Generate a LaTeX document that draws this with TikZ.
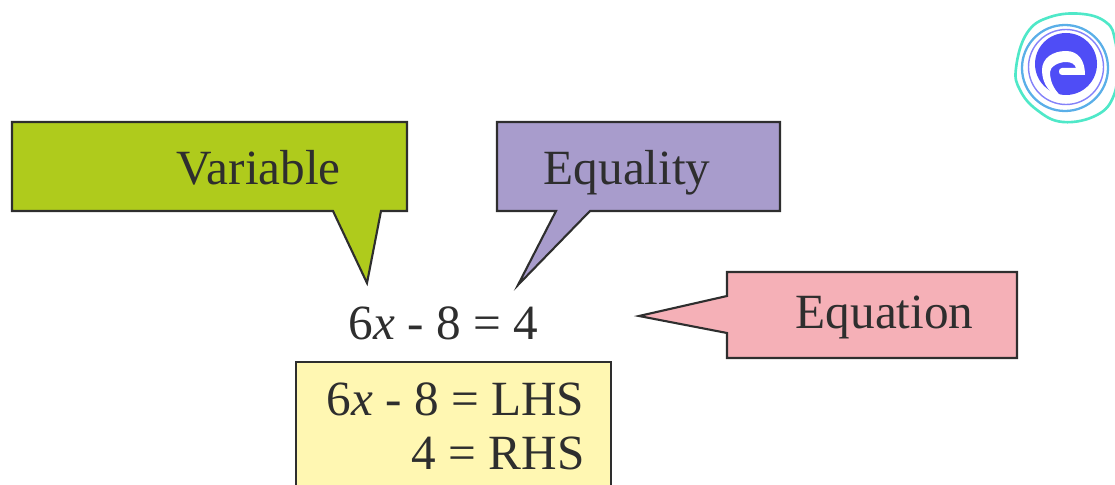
\documentclass[tikz,border=0pt]{standalone}
\usepackage{fontspec}
\setmainfont{Liberation Serif}
\definecolor{inkgrey}{HTML}{2E2E2E}
\definecolor{vargreen}{HTML}{AFCB1C}
\definecolor{eqpurple}{HTML}{A89CCC}
\definecolor{eqpink}{HTML}{F5B0B7}
\definecolor{sideyellow}{HTML}{FFF7B2}
\definecolor{logoblue}{HTML}{4F4DF6}
\definecolor{logoring}{HTML}{5AAFE8}
\definecolor{logoteal}{HTML}{4FE8C8}
\tikzset{
    bubble/.style={draw=inkgrey, line width=0.6pt, line join=miter},
    label/.style={anchor=base west, inner sep=0pt, text=inkgrey, font=\fontsize{14}{17}\selectfont},
}
\begin{document}
\begin{tikzpicture}[x=0.01cm, y=-0.01cm]
        \useasboundingbox (0,0) rectangle (1115,485);
        \clip (0,0) rectangle (1115,485);
        %callouts
        \draw[bubble, fill=vargreen] (12,122) -- (407,122) -- (407,211) -- (381,211) -- (367,283) -- (333,211) -- (12,211) -- cycle;
        \draw[bubble, fill=eqpurple] (497,122) -- (780,122) -- (780,211) -- (590,211) -- (518,285) -- (556,211) -- (497,211) -- cycle;
        \draw[bubble, fill=eqpink] (727,272) -- (1017,272) -- (1017,358) -- (727,358) -- (727,333) -- (639,316) -- (727,296) -- cycle;
        \draw[bubble, fill=sideyellow] (296,490) -- (296,362) -- (611,362) -- (611,490);
        \node[label] (variable) at (176,185) {Variable};
        \node[label] (equality) at (543,185) {Equality};
        \node[label] (equation) at (795,328) {Equation};
        \node[label] (main) at (348,339) {6\textit{x} - 8 = 4};
        \node[label] (lhs) at (326,415) {6\textit{x} - 8 = LHS};
        \node[label] (rhs) at (411,469) {4 = RHS};
        %logo
        \draw[logoteal, line width=0.75pt] plot[smooth cycle, tension=0.7] coordinates {(1016,68) (1027,33) (1050,17) (1083,14) (1107,23) (1115,40) (1117,65) (1114,95) (1097,115) (1063,122) (1037,110) (1020,90)};
        \draw[logoring, line width=0.65pt] (1065,68) circle (43);
        \draw[logoblue!70, line width=0.4pt] (1066,67) circle (37.5);
        \fill[logoblue] (1066,64) circle (31);
        \fill[white] (1063,98) .. controls (1050,95) and (1042,84) .. (1042,70) .. controls (1042,58) and (1053,51) .. (1066,51) .. controls (1078,51) and (1085,60) .. (1085,75) -- (1062,75) .. controls (1058,75) and (1058,68) .. (1062,68) -- (1076,68) .. controls (1075,64) and (1071,62) .. (1066,62) .. controls (1058,62) and (1050,67) .. (1050,72) .. controls (1050,84) and (1056,92) .. (1063,98) -- cycle;
    \end{tikzpicture}
\end{document}
